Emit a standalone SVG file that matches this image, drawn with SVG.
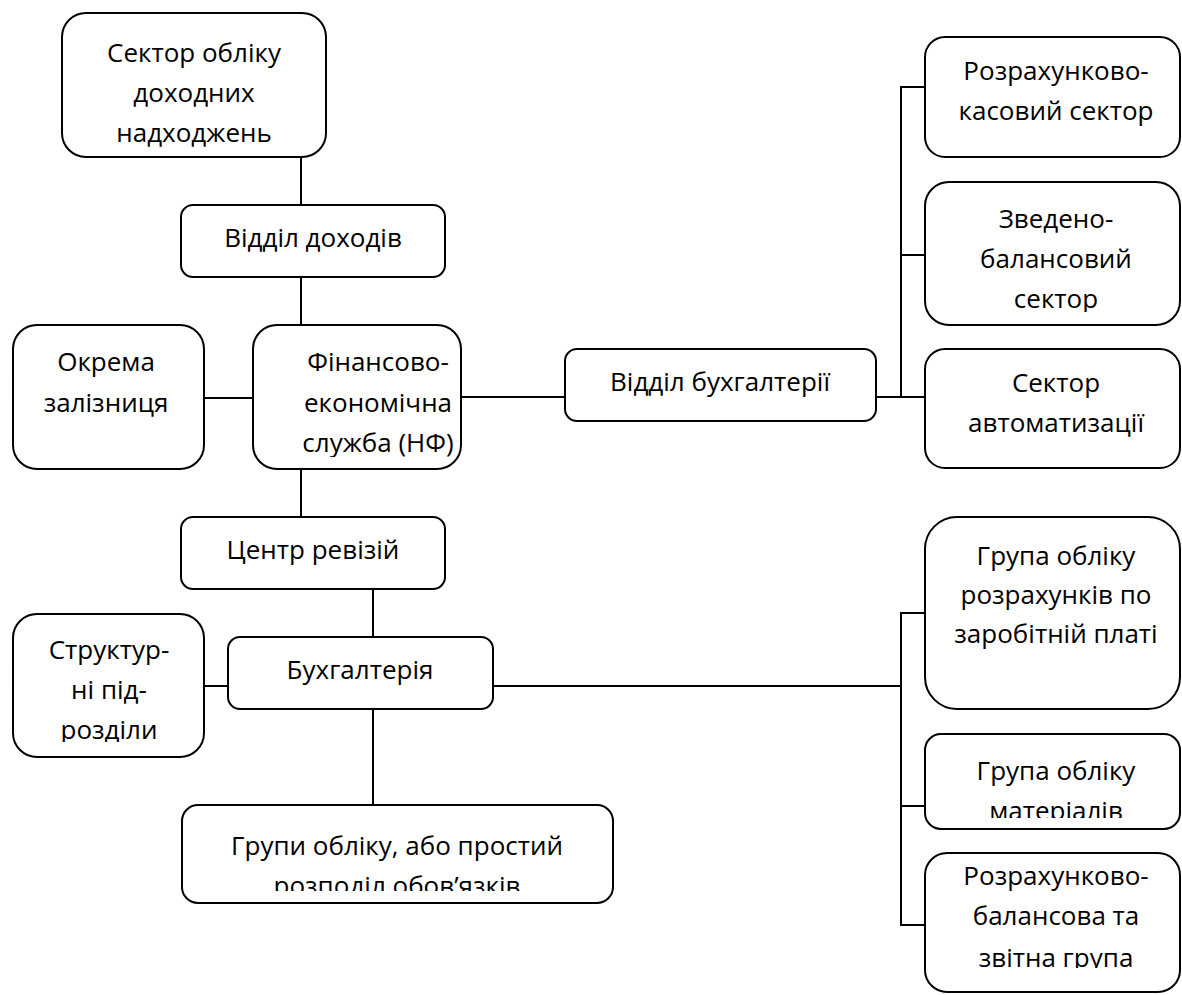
<svg xmlns="http://www.w3.org/2000/svg" width="1182" height="995" viewBox="0 0 1182 995">
  <style>
    .box { fill: #ffffff; stroke: #000000; stroke-width: 2; }
    .lbl { font-family: "Open Sans", "Noto Sans", "DejaVu Sans", sans-serif; font-size: 26px; fill: #000000; text-anchor: middle; }
    .wire { stroke: #000000; stroke-width: 2; fill: none; }
  </style>
  <defs>
    <!-- text frames: overflowing lines are cut at the inner bottom edge -->
    <clipPath id="clipFin"><rect x="240" y="325" width="240" height="132"/></clipPath>
    <clipPath id="clipZved"><rect x="925" y="182" width="255" height="130"/></clipPath>
    <clipPath id="clipStruct"><rect x="13" y="614" width="191" height="128"/></clipPath>
    <clipPath id="clipGroups"><rect x="182" y="805" width="431" height="86"/></clipPath>
    <clipPath id="clipMat"><rect x="925" y="734" width="255" height="84"/></clipPath>
    <clipPath id="clipBal"><rect x="925" y="853" width="255" height="115"/></clipPath>
  </defs>

  <rect width="1182" height="995" fill="#ffffff"/>

  <g id="connectors">
    <line class="wire" x1="301" y1="157" x2="301" y2="205"/>
    <line class="wire" x1="301" y1="277" x2="301" y2="325"/>
    <line class="wire" x1="204" y1="398" x2="253" y2="398"/>
    <line class="wire" x1="461" y1="397" x2="565" y2="397"/>
    <line class="wire" x1="876" y1="397" x2="925" y2="397"/>
    <line class="wire" x1="901" y1="86" x2="901" y2="398"/>
    <line class="wire" x1="900" y1="87" x2="925" y2="87"/>
    <line class="wire" x1="900" y1="255" x2="925" y2="255"/>
    <line class="wire" x1="301" y1="469" x2="301" y2="517"/>
    <line class="wire" x1="373" y1="589" x2="373" y2="637"/>
    <line class="wire" x1="204" y1="686" x2="228" y2="686"/>
    <line class="wire" x1="493" y1="686" x2="901" y2="686"/>
    <line class="wire" x1="373" y1="709" x2="373" y2="805"/>
    <line class="wire" x1="901" y1="612" x2="901" y2="926"/>
    <line class="wire" x1="900" y1="613" x2="925" y2="613"/>
    <line class="wire" x1="900" y1="806" x2="925" y2="806"/>
    <line class="wire" x1="900" y1="925" x2="925" y2="925"/>
  </g>

  <g id="sector-dokhodiv">
    <rect class="box" x="62" y="13" width="264" height="144" rx="24"/>
    <text class="lbl" x="194" y="62">Сектор обліку</text>
    <text class="lbl" x="194" y="102">доходних</text>
    <text class="lbl" x="194" y="142">надходжень</text>
  </g>

  <g id="viddil-dokhodiv">
    <rect class="box" x="181" y="205" width="264" height="72" rx="12"/>
    <text class="lbl" x="313" y="247">Відділ доходів</text>
  </g>

  <g id="okrema-zaliznytsia">
    <rect class="box" x="13" y="325" width="191" height="144" rx="24"/>
    <text class="lbl" x="106" y="371">Окрема</text>
    <text class="lbl" x="106" y="412">залізниця</text>
  </g>

  <g id="finansovo-ekonomichna">
    <rect class="box" x="253" y="325" width="208" height="144" rx="24"/>
    <g clip-path="url(#clipFin)">
      <text class="lbl" x="378" y="371">Фінансово-</text>
      <text class="lbl" x="378" y="412">економічна</text>
      <text class="lbl" x="378" y="452">служба (НФ)</text>
    </g>
  </g>

  <g id="viddil-bukhhalterii">
    <rect class="box" x="565" y="349" width="311" height="72" rx="12"/>
    <text class="lbl" x="720" y="391">Відділ бухгалтерії</text>
  </g>

  <g id="kasovyi-sektor">
    <rect class="box" x="925" y="37" width="255" height="120" rx="20"/>
    <text class="lbl" x="1056" y="80">Розрахунково-</text>
    <text class="lbl" x="1056" y="120">касовий сектор</text>
  </g>

  <g id="zvedeno-balansovyi">
    <rect class="box" x="925" y="182" width="255" height="143" rx="24"/>
    <g clip-path="url(#clipZved)">
      <text class="lbl" x="1056" y="228">Зведено-</text>
      <text class="lbl" x="1056" y="268">балансовий</text>
      <text class="lbl" x="1056" y="308">сектор</text>
    </g>
  </g>

  <g id="sektor-avtomatyzatsii">
    <rect class="box" x="925" y="349" width="255" height="119" rx="20"/>
    <text class="lbl" x="1056" y="392">Сектор</text>
    <text class="lbl" x="1056" y="432">автоматизації</text>
  </g>

  <g id="tsentr-revizii">
    <rect class="box" x="181" y="517" width="264" height="72" rx="12"/>
    <text class="lbl" x="313" y="559">Центр ревізій</text>
  </g>

  <g id="strukturni-pidrozdily">
    <rect class="box" x="13" y="614" width="191" height="143" rx="24"/>
    <g clip-path="url(#clipStruct)">
      <text class="lbl" x="109" y="659">Структур-</text>
      <text class="lbl" x="109" y="699">ні під-</text>
      <text class="lbl" x="109" y="739">розділи</text>
    </g>
  </g>

  <g id="bukhhalteriia">
    <rect class="box" x="228" y="637" width="265" height="72" rx="12"/>
    <text class="lbl" x="360" y="679">Бухгалтерія</text>
  </g>

  <g id="hrupy-obliku">
    <rect class="box" x="182" y="805" width="431" height="98" rx="16"/>
    <g clip-path="url(#clipGroups)">
      <text class="lbl" x="397" y="855">Групи обліку, або простий</text>
      <text class="lbl" x="397" y="895">розподіл обов’язків</text>
    </g>
  </g>

  <g id="hrupa-zarplata">
    <rect class="box" x="925" y="517" width="255" height="192" rx="32"/>
    <text class="lbl" x="1056" y="565">Група обліку</text>
    <text class="lbl" x="1056" y="604">розрахунків по</text>
    <text class="lbl" x="1056" y="643">заробітній платі</text>
  </g>

  <g id="hrupa-materialiv">
    <rect class="box" x="925" y="734" width="255" height="95" rx="16"/>
    <g clip-path="url(#clipMat)">
      <text class="lbl" x="1056" y="780">Група обліку</text>
      <text class="lbl" x="1056" y="820">матеріалів</text>
    </g>
  </g>

  <g id="balansova-zvitna">
    <rect class="box" x="925" y="853" width="255" height="139" rx="22"/>
    <g clip-path="url(#clipBal)">
      <text class="lbl" x="1056" y="885">Розрахунково-</text>
      <text class="lbl" x="1056" y="925">балансова та</text>
      <text class="lbl" x="1056" y="967">звітна група</text>
    </g>
  </g>
</svg>
